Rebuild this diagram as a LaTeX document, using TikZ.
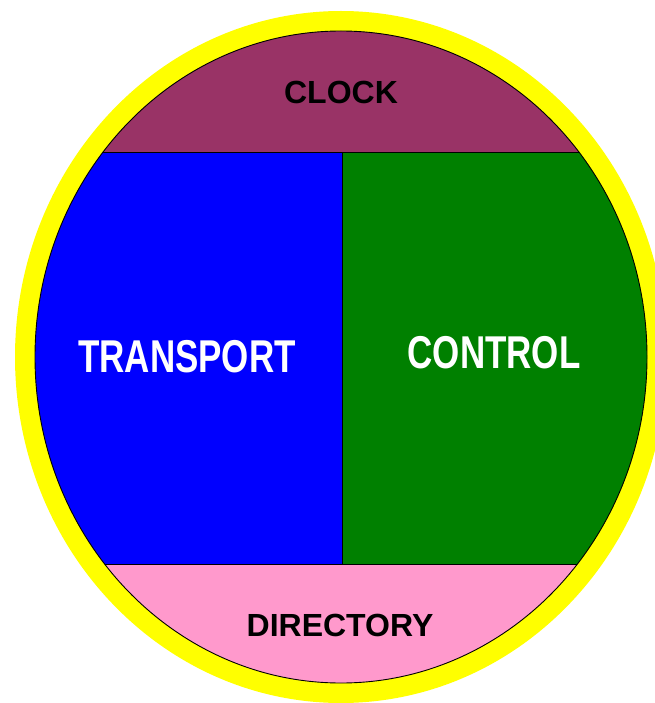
\documentclass[tikz,border=0pt]{standalone}
\usepackage{fontspec}
\setmainfont{Liberation Sans}
\definecolor{ringyellow}{HTML}{FFFF00}
\definecolor{clockfill}{HTML}{993366}
\definecolor{transportfill}{HTML}{0000FF}
\definecolor{controlfill}{HTML}{008000}
\definecolor{directoryfill}{HTML}{FF99CC}

\begin{document}
\begin{tikzpicture}[
  x=1pt, y=-1pt,
  band/.style={font=\bfseries\fontsize{32}{36}\selectfont, text=black, inner sep=0pt},
  core/.style={font=\bfseries\fontsize{46}{50}\selectfont, text=white, inner sep=0pt, xscale=0.76},
  divider/.style={draw=black, line width=0.9pt}
]
\useasboundingbox (0,0) rectangle (654,703);
% yellow ring
\fill[ringyellow] (341,357) ellipse [x radius=326, y radius=346];
% four parts inside the ellipse
\begin{scope}
  \clip (341,357) ellipse [x radius=306, y radius=326];
  \fill[clockfill] (0,0) rectangle (654,152);
  \fill[transportfill] (0,152) rectangle (342,564);
  \fill[controlfill] (342,152) rectangle (654,564);
  \fill[directoryfill] (0,564) rectangle (654,703);
  \draw[divider] (0,152) -- (654,152);
  \draw[divider] (0,564) -- (654,564);
  \draw[divider] (342,152) -- (342,564);
\end{scope}
\draw[divider] (341,357) ellipse [x radius=306, y radius=326];

\node[band] (clock) at (341,92) {CLOCK};
\node[core] (transport) at (187,357) {TRANSPORT};
\node[core] (control) at (494,353) {CONTROL};
\node[band] (directory) at (340,625) {DIRECTORY};
\end{tikzpicture}
\end{document}
